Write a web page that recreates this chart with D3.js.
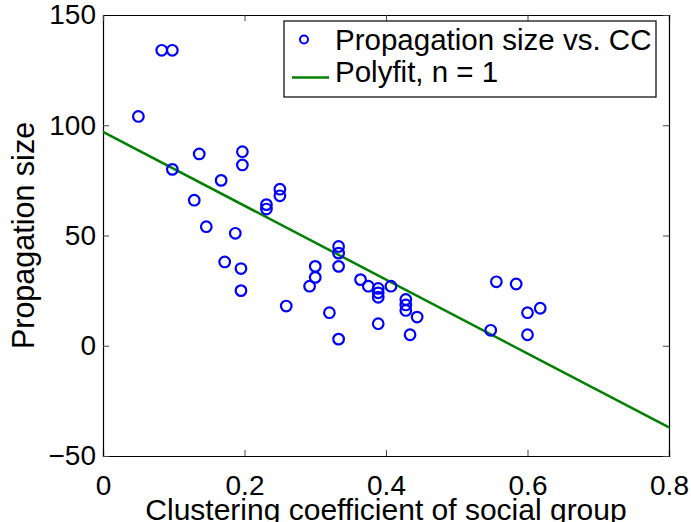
<!DOCTYPE html>
<html>
<head>
<meta charset="utf-8">
<script src="https://cdn.jsdelivr.net/npm/d3@7"></script>
<style>
  body { margin: 0; background: #fff; }
  svg text { font-family: "Liberation Sans", Arial, sans-serif; fill: #000; }
</style>
</head>
<body>
<div id="chart"></div>
<script>
// scatter data
var ccValues = [0.083, 0.098, 0.050, 0.136, 0.197, 0.197, 0.098, 0.167, 0.250, 0.250,
  0.129, 0.231, 0.231, 0.146, 0.187, 0.172, 0.195, 0.195, 0.259,
  0.333, 0.333, 0.300, 0.333, 0.300, 0.292, 0.320, 0.333,
  0.364, 0.375, 0.389, 0.389, 0.389, 0.407, 0.389,
  0.428, 0.428, 0.428, 0.444, 0.434,
  0.556, 0.584, 0.600, 0.618, 0.548, 0.600];
var sizeValues = [134, 134, 104, 87, 88, 82, 80, 75, 71, 68,
  66, 64, 62, 54, 51, 38, 35, 25, 18,
  45, 42, 36, 36, 31, 27, 15, 3,
  30, 27, 26, 24, 22, 27, 10,
  21, 18.5, 16, 13, 5,
  29, 28, 15, 17, 7, 5];
// polyfit line endpoints
var fitX = [0, 0.8];
var fitY = [97, -37];
var xTicks = [0, 0.2, 0.4, 0.6, 0.8];
var yTicks = [-50, 0, 50, 100, 150];
var legendLabels = ["Propagation size vs. CC", "Polyfit, n = 1"];

var width = 691, height = 522;
var margin = {top: 15, right: 22, bottom: 66, left: 103};
var w = width - margin.left - margin.right,
    h = height - margin.top - margin.bottom;

var svg = d3.select("#chart").append("svg")
    .attr("width", width)
    .attr("height", height);

var g = svg.append("g")
    .attr("transform", "translate(" + margin.left + "," + margin.top + ")");

var x = d3.scaleLinear().domain([0, 0.8]).range([0, w]);
var y = d3.scaleLinear().domain([-50, 150]).range([h, 0]);

// axes with inward ticks, mirrored on top and right
var fmt = function(d) { return d < 0 ? "\u2212" + Math.abs(d) : String(d); };

var xAxis = g.append("g")
    .attr("transform", "translate(0," + h + ")")
    .call(d3.axisBottom(x).tickValues(xTicks).tickSize(-6).tickPadding(19).tickFormat(fmt));
var yAxis = g.append("g")
    .call(d3.axisLeft(y).tickValues(yTicks).tickSize(-6).tickPadding(7).tickFormat(fmt));
g.append("g")
    .call(d3.axisTop(x).tickValues(xTicks).tickSize(-6).tickFormat(""));
g.append("g")
    .attr("transform", "translate(" + w + ",0)")
    .call(d3.axisRight(y).tickValues(yTicks).tickSize(-6).tickFormat(""));

g.selectAll(".domain").attr("stroke", "#000").attr("stroke-width", 1.2);
g.selectAll(".tick line").attr("stroke", "#444").attr("stroke-width", 1);
g.selectAll(".tick text").style("font-size", "28px").attr("fill", "#000");
xAxis.selectAll(".tick text").attr("dy", "0.71em");

// fit line
g.append("line")
    .attr("x1", x(fitX[0])).attr("y1", y(fitY[0]))
    .attr("x2", x(fitX[1])).attr("y2", y(fitY[1]))
    .attr("stroke", "#008000")
    .attr("stroke-width", 2.5);

// points
g.selectAll("circle.pt")
    .data(ccValues)
  .enter().append("circle")
    .attr("class", "pt")
    .attr("cx", function(d) { return x(d); })
    .attr("cy", function(d, i) { return y(sizeValues[i]); })
    .attr("r", 5.3)
    .attr("fill", "none")
    .attr("stroke", "#0000ff")
    .attr("stroke-width", 2.2);

// legend
var lg = svg.append("g").attr("transform", "translate(284,21)");
lg.append("rect")
    .attr("width", 372).attr("height", 76)
    .attr("fill", "#fff").attr("stroke", "#000").attr("stroke-width", 1.2);
lg.append("circle")
    .attr("cx", 20).attr("cy", 18.5).attr("r", 4)
    .attr("fill", "none").attr("stroke", "#0000ff").attr("stroke-width", 2);
lg.append("line")
    .attr("x1", 8).attr("x2", 45).attr("y1", 56.5).attr("y2", 56.5)
    .attr("stroke", "#008000").attr("stroke-width", 2.5);
lg.selectAll("text.lab")
    .data(legendLabels)
  .enter().append("text")
    .attr("class", "lab")
    .attr("x", 51)
    .attr("y", function(d, i) { return 28.5 + i * 32.3; })
    .style("font-size", "29.5px")
    .text(function(d) { return d; });

// axis titles
svg.append("text")
    .attr("x", margin.left + w / 2)
    .attr("y", 520)
    .attr("text-anchor", "middle")
    .style("font-size", "30px")
    .text("Clustering coefficient of social group");

svg.append("text")
    .attr("transform", "translate(34,235.5) rotate(-90)")
    .attr("text-anchor", "middle")
    .style("font-size", "30.5px")
    .text("Propagation size");
</script>
</body>
</html>
